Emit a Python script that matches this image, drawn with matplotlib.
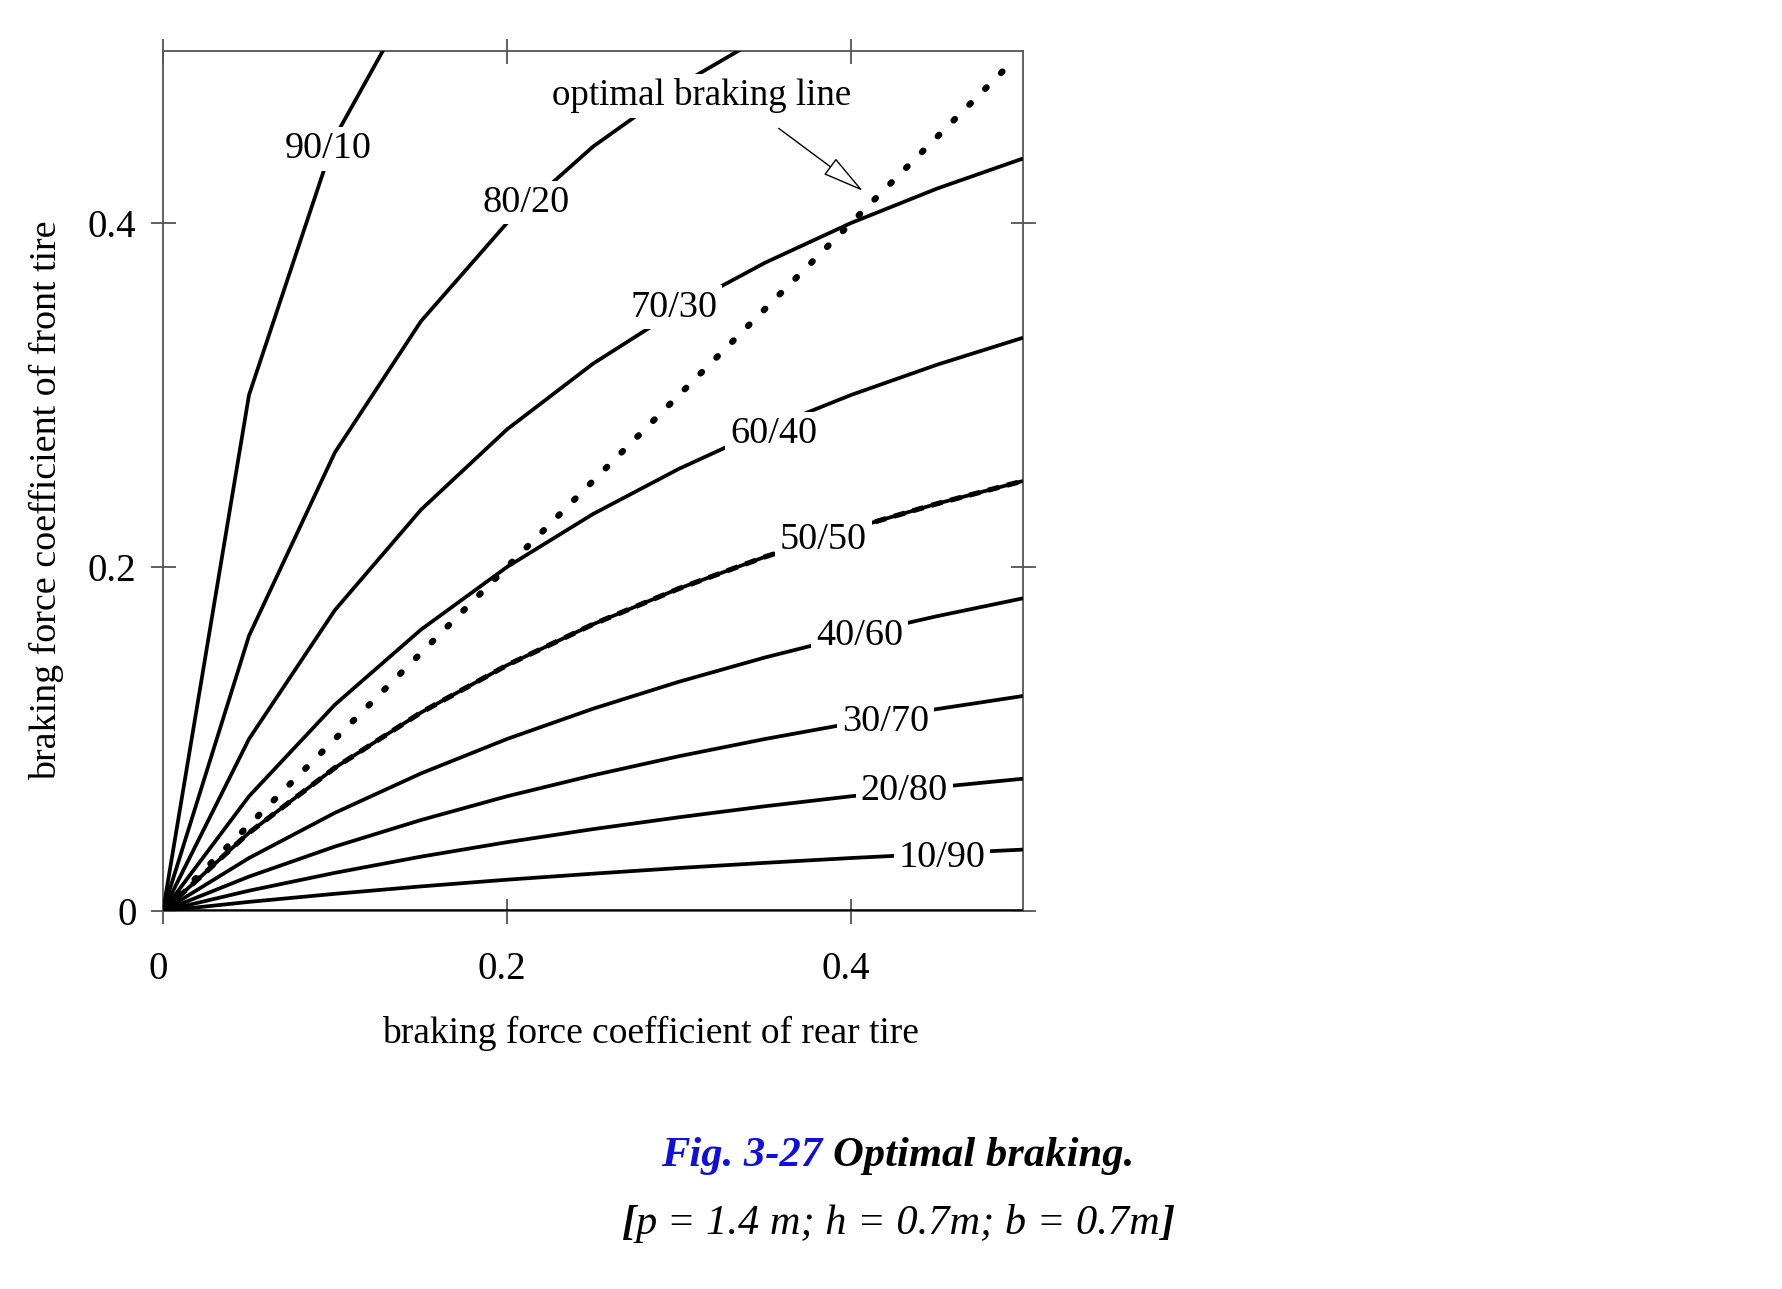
import matplotlib
matplotlib.use("Agg")
import matplotlib.pyplot as plt
import matplotlib.transforms as mtrans

plt.rcParams['font.family'] = ['Liberation Serif', 'DejaVu Serif']

# rear tire braking force coefficient (x) samples
rear = [0.0, 0.05, 0.10, 0.15, 0.20, 0.25, 0.30, 0.35, 0.40, 0.45, 0.50]

# front tire braking force coefficient for each front/rear brake distribution
front_90_10 = [0.0, 0.300, 0.450, 0.540]
front_80_20 = [0.0, 0.160, 0.2667, 0.3429, 0.400, 0.4444, 0.480, 0.5091]
front_70_30 = [0.0, 0.100, 0.175, 0.2333, 0.280, 0.3182, 0.350, 0.3769, 0.400, 0.420, 0.4375]
front_60_40 = [0.0, 0.0667, 0.120, 0.1636, 0.200, 0.2308, 0.2571, 0.280, 0.300, 0.3176, 0.3333]
front_50_50 = [0.0, 0.0455, 0.0833, 0.1154, 0.1429, 0.1667, 0.1875, 0.2059, 0.2222, 0.2368, 0.250]
front_40_60 = [0.0, 0.0308, 0.0571, 0.080, 0.100, 0.1176, 0.1333, 0.1474, 0.160, 0.1714, 0.1818]
front_30_70 = [0.0, 0.020, 0.0375, 0.0529, 0.0667, 0.0789, 0.090, 0.100, 0.1091, 0.1174, 0.125]
front_20_80 = [0.0, 0.0118, 0.0222, 0.0316, 0.040, 0.0476, 0.0545, 0.0609, 0.0667, 0.072, 0.0769]
front_10_90 = [0.0, 0.0053, 0.010, 0.0143, 0.0182, 0.0217, 0.025, 0.028, 0.0308, 0.0333, 0.0357]
front_0_100 = [0.0] * 11

# optimal braking line (front = rear)
optimal_x = [0.0, 0.491]
optimal_y = [0.0, 0.491]

curve_names = ["90/10", "80/20", "70/30", "60/40", "50/50",
               "40/60", "30/70", "20/80", "10/90"]
curve_data = [front_90_10, front_80_20, front_70_30, front_60_40, front_50_50,
              front_40_60, front_30_70, front_20_80, front_10_90]
# label anchor positions (data coords)
label_x = [0.096, 0.211, 0.297, 0.355, 0.384, 0.405, 0.420, 0.431, 0.453]
label_y = [0.443, 0.412, 0.351, 0.2775, 0.216, 0.160, 0.110, 0.070, 0.031]

xticks = [0, 0.2, 0.4]
xtick_labels = ["0", "0.2", "0.4"]
yticks = [0, 0.2, 0.4]
ytick_labels = ["0", "0.2", "0.4"]

W, H = 1782, 1289
fig = plt.figure(figsize=(W / 100, H / 100), dpi=100)
ax = fig.add_axes([163 / W, 1 - 911 / H, 860 / W, 860 / H])
ax.set_xlim(0, 0.5)
ax.set_ylim(0, 0.5)

lw = 2.7
for name, ys in zip(curve_names, curve_data):
    ax.plot(rear[:len(ys)], ys, color='black', lw=lw, solid_capstyle='butt', zorder=3)
ax.plot(rear, front_0_100, color='black', lw=lw + 0.6, zorder=3)
# dashed overlay on the 50/50 curve
ax.plot(rear, front_50_50, color='black', lw=lw + 1.0, linestyle=(0, (2.2, 1.6)), zorder=3)

ax.plot(optimal_x, optimal_y, color='black', lw=4.6, linestyle=(0, (0.3, 3.2)),
        dash_capstyle='round', zorder=4)

for name, lx, ly in zip(curve_names, label_x, label_y):
    ax.text(lx, ly, name, fontsize=27.5, ha='center', va='center', zorder=6,
            bbox=dict(boxstyle='square,pad=0.12', fc='white', ec='none'))

ax.text(0.313, 0.474, "optimal braking line", fontsize=26.6, ha='center', va='center',
        zorder=6, bbox=dict(boxstyle='square,pad=0.12', fc='white', ec='none'))
ax.annotate("", xy=(0.407, 0.4186), xytext=(0.358, 0.455),
            arrowprops=dict(arrowstyle="-|>,head_length=1.0,head_width=0.24",
                            mutation_scale=27, fc='white', ec='black', lw=1.0,
                            shrinkA=0, shrinkB=0),
            zorder=7)

spine_col = '#555555'
for s in ax.spines.values():
    s.set_color(spine_col)
    s.set_linewidth(1.3)
ax.set_xticks(xticks)
ax.set_xticklabels(xtick_labels)
ax.set_yticks(yticks)
ax.set_yticklabels(ytick_labels)
ax.tick_params(direction='inout', length=18, width=1.3, color=spine_col,
               top=True, right=True, labelsize=28)
ax.tick_params(axis='x', pad=20)
ax.tick_params(axis='y', pad=10)
shift = mtrans.ScaledTranslation(-5 / 100, 0, fig.dpi_scale_trans)
for lab in ax.get_xticklabels():
    lab.set_transform(lab.get_transform() + shift)

fig.text(650 / W, 1 - 1033 / H, "braking force coefficient of rear tire", fontsize=27,
         ha='center', va='center')
fig.text(46 / W, 1 - 500 / H, "braking force coefficient of front tire", fontsize=27.4,
         ha='center', va='center', rotation=90)

# caption
fig.canvas.draw()
r = fig.canvas.get_renderer()
fig.text(822 / W, 1 - 1166 / H, "Fig. 3-27", color='#1010dd', fontsize=30.7,
         fontweight='bold', style='italic', ha='right', va='baseline')
fig.text(833 / W, 1 - 1166 / H, "Optimal braking.", color='black', fontsize=30.7,
         fontweight='bold', style='italic', ha='left', va='baseline')
mid = fig.text(898 / W, 1 - 1234 / H, "p = 1.4 m; h = 0.7m; b = 0.7m", fontsize=30.5,
               style='italic', ha='center', va='baseline')
bb = mid.get_window_extent(renderer=r)
fig.text(bb.x0 / W, 1 - 1234 / H, "[", fontsize=30.5, style='italic', fontweight='bold',
         ha='right', va='baseline')
fig.text(bb.x1 / W, 1 - 1234 / H, "]", fontsize=30.5, style='italic', fontweight='bold',
         ha='left', va='baseline')

fig.savefig("out.png", dpi=100)
